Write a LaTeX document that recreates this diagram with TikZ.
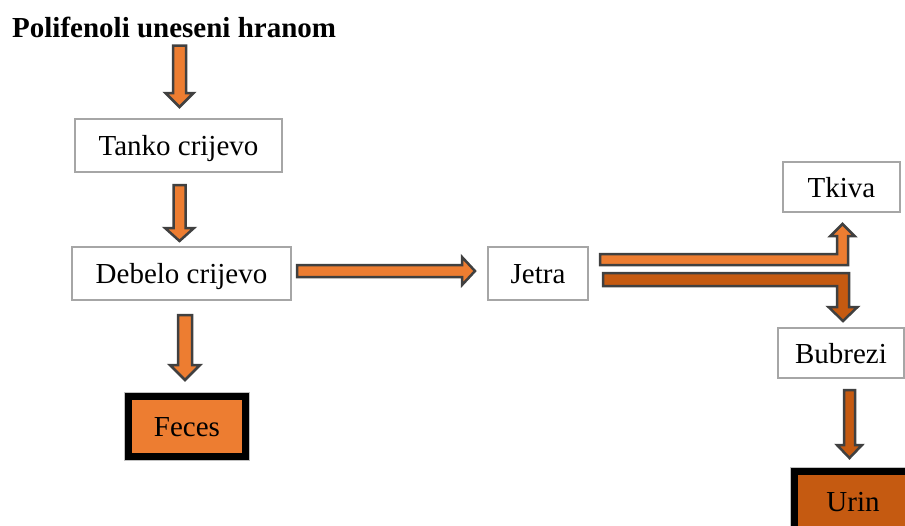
\documentclass[tikz,border=0pt]{standalone}
\usepackage{fontspec}
\setmainfont{Liberation Serif}
\usetikzlibrary{calc}

\definecolor{arrorange}{HTML}{ED7D31}
\definecolor{arrbrown}{HTML}{C55A11}
\definecolor{arredge}{HTML}{404040}
\definecolor{boxgray}{HTML}{A6A6A6}

\tikzset{
  organ/.style={draw=boxgray, line width=2pt, fill=white, inner sep=0pt, outer sep=0pt,
                text height=20pt, text depth=0pt, font=\fontsize{29}{34}\selectfont},
  endbox/.style={organ, draw=black, line width=7pt, minimum width=117pt, minimum height=60pt,
                 preaction={draw=boxgray!70, line width=9pt}},
  blockline/.style={draw=arredge, line width=2.5pt, line join=miter},
}

% block arrows: fill, from, tip, half shaft, half head, head length
\newcommand{\blockdown}[6]{%
  \draw[blockline,fill=#1] let \p1=(#2), \p2=(#3) in
    (\x2-#4pt,\y1) -- (\x2-#4pt,\y2+#6pt) -- (\x2-#5pt,\y2+#6pt) -- (\x2,\y2)
    -- (\x2+#5pt,\y2+#6pt) -- (\x2+#4pt,\y2+#6pt) -- (\x2+#4pt,\y1) -- cycle;}
\newcommand{\blockright}[6]{%
  \draw[blockline,fill=#1] let \p1=(#2), \p2=(#3) in
    (\x1,\y2+#4pt) -- (\x2-#6pt,\y2+#4pt) -- (\x2-#6pt,\y2+#5pt) -- (\x2,\y2)
    -- (\x2-#6pt,\y2-#5pt) -- (\x2-#6pt,\y2-#4pt) -- (\x1,\y2-#4pt) -- cycle;}

\begin{document}
\begin{tikzpicture}[x=1pt,y=-1pt]
                              % Page
                              \useasboundingbox (0,0) rectangle (905,525);

                              % Boxes
                              \node[anchor=base west, inner sep=0pt, font=\bfseries\fontsize{29}{34}\selectfont]
                                    (title) at (12,37) {Polifenoli uneseni hranom};
                              \node[organ, minimum width=207pt, minimum height=53pt] (tanko) at (178.5,145.5) {Tanko crijevo};
                              \node[organ, minimum width=219pt, minimum height=53pt] (debelo) at (181.5,273.5) {Debelo crijevo};
                              \node[organ, minimum width=100pt, minimum height=53pt] (jetra) at (538,273.5) {Jetra};
                              \node[organ, minimum width=117pt, minimum height=50pt] (tkiva) at (841.5,187) {Tkiva};
                              \node[organ, minimum width=126pt, minimum height=50pt] (bubrezi) at (841,353) {Bubrezi};
                              \node[endbox, fill=arrorange] (feces) at (187,426.5) {Feces};
                              \node[endbox, fill=arrbrown] (urin) at (853,501.5) {Urin};

                              % Straight arrows
                              \blockdown{arrorange}{$(tanko.north |- title.south)+(1,8)$}{$(tanko.north)+(1,-12)$}{6.5}{14}{14}
                              \blockdown{arrorange}{$(tanko.south)+(1,13)$}{$(debelo.north)+(-2,-6)$}{6}{14.5}{13}
                              \blockdown{arrorange}{$(debelo.south)+(3.5,15)$}{$(feces.north)+(-2,-16.5)$}{7}{15}{15}
                              \blockright{arrorange}{$(debelo.east)+(6,-2.5)$}{$(jetra.west)+(-13,-2.5)$}{6}{14}{13}
                              \blockdown{arrbrown}{$(bubrezi.south)+(8.5,12)$}{$(urin.north)+(-3.5,-13.5)$}{5.5}{12.5}{13}

                              % Bent arrows out of the liver
                              \draw[blockline,fill=arrorange] let \p1=($(jetra.east)+(12,-14)$), \p2=($(tkiva.south)+(1,12)$) in
                                    (\x1,\y1+5.5pt) -- (\x2-5.5pt,\y1+5.5pt) -- (\x2-5.5pt,\y2-12pt) -- (\x2-12pt,\y2-12pt)
                                    -- (\x2,\y2) -- (\x2+12pt,\y2-12pt) -- (\x2+5.5pt,\y2-12pt) -- (\x2+5.5pt,\y1-5.5pt)
                                    -- (\x1,\y1-5.5pt) -- cycle;
                              \draw[blockline,fill=arrbrown] let \p1=($(jetra.east)+(15,6)$), \p2=($(bubrezi.north)+(2,-7)$) in
                                    (\x1,\y1+6.5pt) -- (\x2+6pt,\y1+6.5pt) -- (\x2+6pt,\y2+14pt) -- (\x2+14.5pt,\y2+14pt)
                                    -- (\x2,\y2) -- (\x2-14.5pt,\y2+14pt) -- (\x2-6pt,\y2+14pt) -- (\x2-6pt,\y1-6.5pt)
                                    -- (\x1,\y1-6.5pt) -- cycle;
                        \end{tikzpicture}
\end{document}
